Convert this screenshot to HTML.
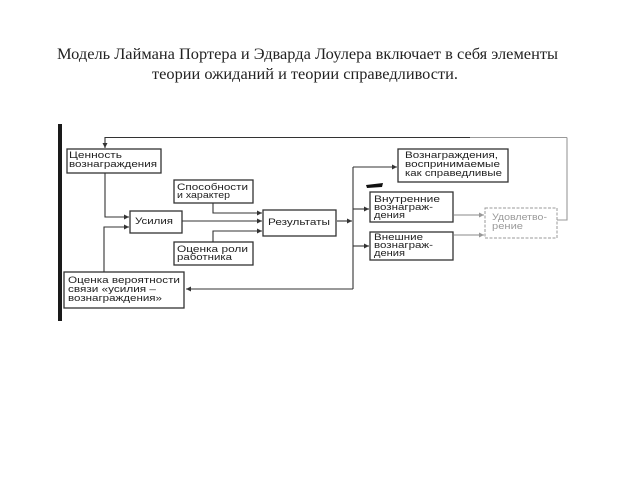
<!DOCTYPE html>
<html><head><meta charset="utf-8"><style>
html,body{margin:0;padding:0;background:#fff;}
svg{display:block;}
.t{font-family:"Liberation Serif",serif;font-size:16px;fill:#222;}
.b{font-family:"Liberation Sans",sans-serif;font-size:9px;fill:#222;}
.f{font-family:"Liberation Sans",sans-serif;font-size:9px;fill:#9a9a9a;}
</style></head><body>
<svg width="640" height="480" viewBox="0 0 640 480" xmlns="http://www.w3.org/2000/svg">
<defs>
<marker id="a" markerWidth="6" markerHeight="6" refX="5" refY="3" orient="auto" markerUnits="userSpaceOnUse">
<path d="M0,0.5 L5,3 L0,5.5 Z" fill="#333"/></marker>
<marker id="g" markerWidth="6" markerHeight="6" refX="5" refY="3" orient="auto" markerUnits="userSpaceOnUse">
<path d="M0,0.5 L5,3 L0,5.5 Z" fill="#999"/></marker>
</defs>
<rect width="640" height="480" fill="#fff"/>
<text class="t" x="57" y="59" textLength="501" lengthAdjust="spacingAndGlyphs">Модель Лаймана Портера и Эдварда Лоулера включает в себя элементы</text>
<text class="t" x="152" y="79" textLength="306" lengthAdjust="spacingAndGlyphs">теории ожиданий и теории справедливости.</text>

<!-- left bar -->
<rect x="58" y="124" width="4" height="197" fill="#1a1a1a"/>

<g stroke="#333" stroke-width="1.1" fill="none">
<!-- top feedback -->
<polyline points="557,220 567,220 567,137.5" stroke="#999"/>
<line x1="567" y1="137.5" x2="470" y2="137.5" stroke="#999"/>
<polyline points="470,137.5 105,137.5 105,148" marker-end="url(#a)"/>
<!-- Ценность -> Усилия -->
<polyline points="105,173 105,217 129,217" marker-end="url(#a)"/>
<!-- Оценка вероятн -> Усилия -->
<polyline points="104,272 104,227 129,227" marker-end="url(#a)"/>
<!-- Способности -> Результаты -->
<polyline points="213,203 213,213 262,213" marker-end="url(#a)"/>
<!-- Усилия -> Результаты -->
<line x1="182" y1="221" x2="262" y2="221" marker-end="url(#a)"/>
<!-- Оценка роли -> Результаты -->
<polyline points="213,242 213,231 262,231" marker-end="url(#a)"/>
<!-- Результаты -> branch -->
<line x1="337" y1="221" x2="352" y2="221" marker-end="url(#a)"/>
<line x1="353" y1="167" x2="353" y2="289"/>
<line x1="353" y1="167" x2="397" y2="167" marker-end="url(#a)"/>
<line x1="353" y1="209" x2="369" y2="209" marker-end="url(#a)"/>
<line x1="353" y1="246" x2="369" y2="246" marker-end="url(#a)"/>
<line x1="353" y1="289" x2="186" y2="289" marker-end="url(#a)"/>
<!-- to Удовлетворение -->
<line x1="454" y1="215" x2="484" y2="215" stroke="#888" marker-end="url(#g)"/>
<line x1="454" y1="235" x2="484" y2="235" stroke="#888" marker-end="url(#g)"/>
</g>

<!-- boxes -->
<g stroke="#333" stroke-width="1.3" fill="#fff">
<rect x="67" y="149" width="94" height="24"/>
<rect x="174" y="180" width="79" height="23"/>
<rect x="130" y="211" width="52" height="22"/>
<rect x="174" y="242" width="79" height="23"/>
<rect x="263" y="210" width="73" height="26"/>
<rect x="64" y="272" width="120" height="36"/>
<rect x="398" y="149" width="110" height="33"/>
<rect x="370" y="192" width="83" height="30"/>
<rect x="370" y="232" width="83" height="28"/>
</g>
<rect x="485" y="208" width="72" height="30" fill="#fff" stroke="#999" stroke-width="1" stroke-dasharray="3,1.5"/>
<!-- smudge -->
<path d="M366,185 L383,183 L382,187 L367,188 Z" fill="#111"/>

<text class="b" x="69" y="158" textLength="53" lengthAdjust="spacingAndGlyphs">Ценность</text>
<text class="b" x="69" y="167" textLength="88" lengthAdjust="spacingAndGlyphs">вознаграждения</text>
<text class="b" x="177" y="190" textLength="71" lengthAdjust="spacingAndGlyphs">Способности</text>
<text class="b" x="177" y="198" textLength="53" lengthAdjust="spacingAndGlyphs">и характер</text>
<text class="b" x="135" y="224" textLength="38" lengthAdjust="spacingAndGlyphs">Усилия</text>
<text class="b" x="177" y="252" textLength="71" lengthAdjust="spacingAndGlyphs">Оценка роли</text>
<text class="b" x="177" y="260" textLength="55" lengthAdjust="spacingAndGlyphs">работника</text>
<text class="b" x="268" y="225" textLength="62" lengthAdjust="spacingAndGlyphs">Результаты</text>
<text class="b" x="68" y="283" textLength="112" lengthAdjust="spacingAndGlyphs">Оценка вероятности</text>
<text class="b" x="68" y="292" textLength="88" lengthAdjust="spacingAndGlyphs">связи «усилия –</text>
<text class="b" x="68" y="301" textLength="94" lengthAdjust="spacingAndGlyphs">вознаграждения»</text>
<text class="b" x="405" y="158" textLength="93" lengthAdjust="spacingAndGlyphs">Вознаграждения,</text>
<text class="b" x="405" y="167" textLength="95" lengthAdjust="spacingAndGlyphs">воспринимаемые</text>
<text class="b" x="405" y="176" textLength="97" lengthAdjust="spacingAndGlyphs">как справедливые</text>
<text class="b" x="374" y="202" textLength="66" lengthAdjust="spacingAndGlyphs">Внутренние</text>
<text class="b" x="374" y="210" textLength="59" lengthAdjust="spacingAndGlyphs">вознаграж-</text>
<text class="b" x="374" y="218" textLength="31" lengthAdjust="spacingAndGlyphs">дения</text>
<text class="b" x="374" y="240" textLength="49" lengthAdjust="spacingAndGlyphs">Внешние</text>
<text class="b" x="374" y="248" textLength="59" lengthAdjust="spacingAndGlyphs">вознаграж-</text>
<text class="b" x="374" y="256" textLength="31" lengthAdjust="spacingAndGlyphs">дения</text>
<text class="f" x="492" y="220" textLength="55" lengthAdjust="spacingAndGlyphs">Удовлетво-</text>
<text class="f" x="492" y="229" textLength="31" lengthAdjust="spacingAndGlyphs">рение</text>
</svg>
</body></html>
